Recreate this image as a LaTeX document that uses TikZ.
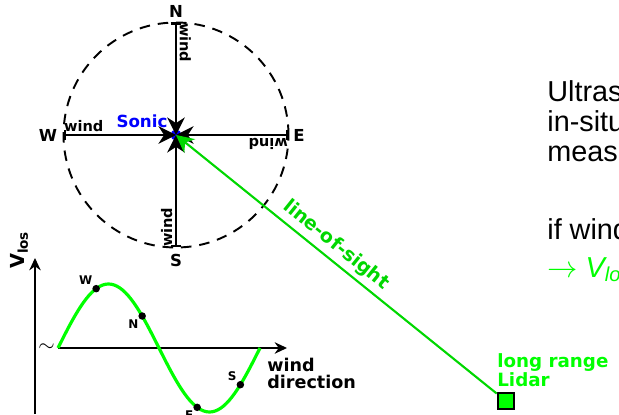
\documentclass[tikz,border=0pt]{standalone}
\usepackage{fontspec}
\setmainfont{Liberation Sans}
\newfontfamily\labelfont{DejaVu Sans}
\usetikzlibrary{arrows.meta}
\definecolor{losgreen}{RGB}{0,215,0}
\definecolor{curvegreen}{RGB}{0,255,0}

\begin{document}
\begin{tikzpicture}[
            compass/.style={color=black, line width=1.1pt, dash pattern=on 6pt off 4.5pt},
            windarrow/.style={color=black, line width=1.3pt, arrows={Bar[width=6pt]-Stealth[length=10pt, width=10pt]}},
            windlabel/.style={font={\labelfont\bfseries\fontsize{8.3}{9}\selectfont}, pos=0.18, sloped, above, allow upside down, inner sep=1.5pt},
            dirnode/.style={font={\labelfont\bfseries\fontsize{9.4}{10}\selectfont}, inner sep=0pt},
            sonicdot/.style={circle, fill=blue, inner sep=0pt, minimum size=0.22cm},
            soniclabel/.style={font={\labelfont\bfseries\fontsize{9.5}{10}\selectfont}, color=blue, inner sep=0pt},
            lidarbox/.style={draw=black, fill=curvegreen, line width=1.2pt, minimum size=0.33cm, inner sep=0pt},
            lidarlabel/.style={font={\labelfont\bfseries\fontsize{10.4}{9.5}\selectfont}, color=curvegreen, align=left, inner sep=0pt},
            losline/.style={color=losgreen, line width=1.2pt, arrows={Stealth[length=10pt, width=10pt]-}},
            loslabel/.style={font={\labelfont\bfseries\fontsize{10.8}{11}\selectfont}, color=losgreen, pos=0.47, sloped, above, inner sep=2.5pt},
            axis/.style={color=black, line width=1.2pt, arrows={-Stealth[length=7pt, width=6.5pt]}},
            axislabel/.style={font={\labelfont\bfseries\fontsize{10}{9.5}\selectfont}, align=left, inner sep=0pt},
            sine/.style={color=curvegreen, line width=1.8pt},
            dot/.style={circle, fill=black, inner sep=0pt, minimum size=0.15cm},
            dotlabel/.style={font={\labelfont\bfseries\fontsize{6.8}{7}\selectfont}, inner sep=2pt},
            bodytext/.style={anchor=base west, inner sep=0pt, font={\fontsize{16.4}{19}\selectfont}}
        ]
            % page
            \useasboundingbox (0, 0) rectangle (12.38, 8.28);
            \clip (0, 0) rectangle (12.38, 8.28);

            % compass points
            \coordinate (c) at (3.52, 5.58);
            \coordinate (n) at (3.52, 7.83);
            \coordinate (s) at (3.52, 3.33);
            \coordinate (w) at (1.27, 5.58);
            \coordinate (e) at (5.77, 5.58);

            % circle and sonic
            \draw[compass] (c) circle (2.25);
            \node[sonicdot] (sonic) at (c) {};
            \node[soniclabel] (soniclbl) at (2.84, 5.86) {Sonic};

            % wind from the four directions
            \draw[windarrow] (n) -- node[windlabel] (windn) {wind} (c);
            \draw[windarrow] (s) -- node[windlabel] (winds) {wind} (c);
            \draw[windarrow] (w) -- node[windlabel] (windw) {wind} (c);
            \draw[windarrow] (e) -- node[windlabel] (winde) {wind} (c);

            \node[dirnode] (north) at (3.52, 8.06) {N};
            \node[dirnode] (south) at (3.52, 3.08) {S};
            \node[dirnode] (west) at (0.96, 5.58) {W};
            \node[dirnode] (east) at (5.98, 5.58) {E};

            % lidar and line of sight
            \node[lidarbox] (lidar) at (10.12, 0.26) {};
            \node[lidarlabel, anchor=north west] (lidarlbl) at (9.94, 1.22) {long range\\Lidar};
            \draw[losline] (c) -- node[loslabel] (loslbl) {line-of-sight} (lidar);

            % v_los against wind direction
            \draw[axis] (0.70, 0) -- (0.70, 3.12);
            \draw[axis] (1.16, 1.32) -- (5.74, 1.32);
            \node[inner sep=0pt, font={\fontsize{12}{12}\selectfont}] (brk) at (0.93, 1.32) {$\sim$};
            \node[axislabel, font={\labelfont\bfseries\fontsize{11}{11}\selectfont}, rotate=90] (vlos) at (0.38, 3.28) {V\textsubscript{los}};
            \node[axislabel, anchor=north west] (wdir) at (5.34, 1.12) {wind\\direction};
            \draw[sine] plot[domain=0:360, samples=73] ({1.16 + \x/360*4.04}, {1.32 + 1.28*sin(\x)});
            \foreach \p/\d/\where in {68/W/above left, 150/N/below left, 248/E/below left, 325/S/above left}{
                \node[dot] (dot\d) at ({1.16 + \p/360*4.04}, {1.32 + 1.28*sin(\p)}) {};
                \node[dotlabel, \where] (lbl\d) at (dot\d) {\d};
            }

            % text
            \node[bodytext] (ultra) at (10.94, 6.24) {Ultras};
            \node[bodytext] (insitu) at (10.94, 5.64) {in-situ};
            \node[bodytext] (meas) at (10.94, 5.04) {meas};
            \node[bodytext] (ifwind) at (10.94, 3.48) {if wind};
            \node[bodytext, color=curvegreen] (vlo) at (10.94, 2.74) {$\rightarrow$ \textit{V\textsubscript{lo}}};

        \end{tikzpicture}
\end{document}
